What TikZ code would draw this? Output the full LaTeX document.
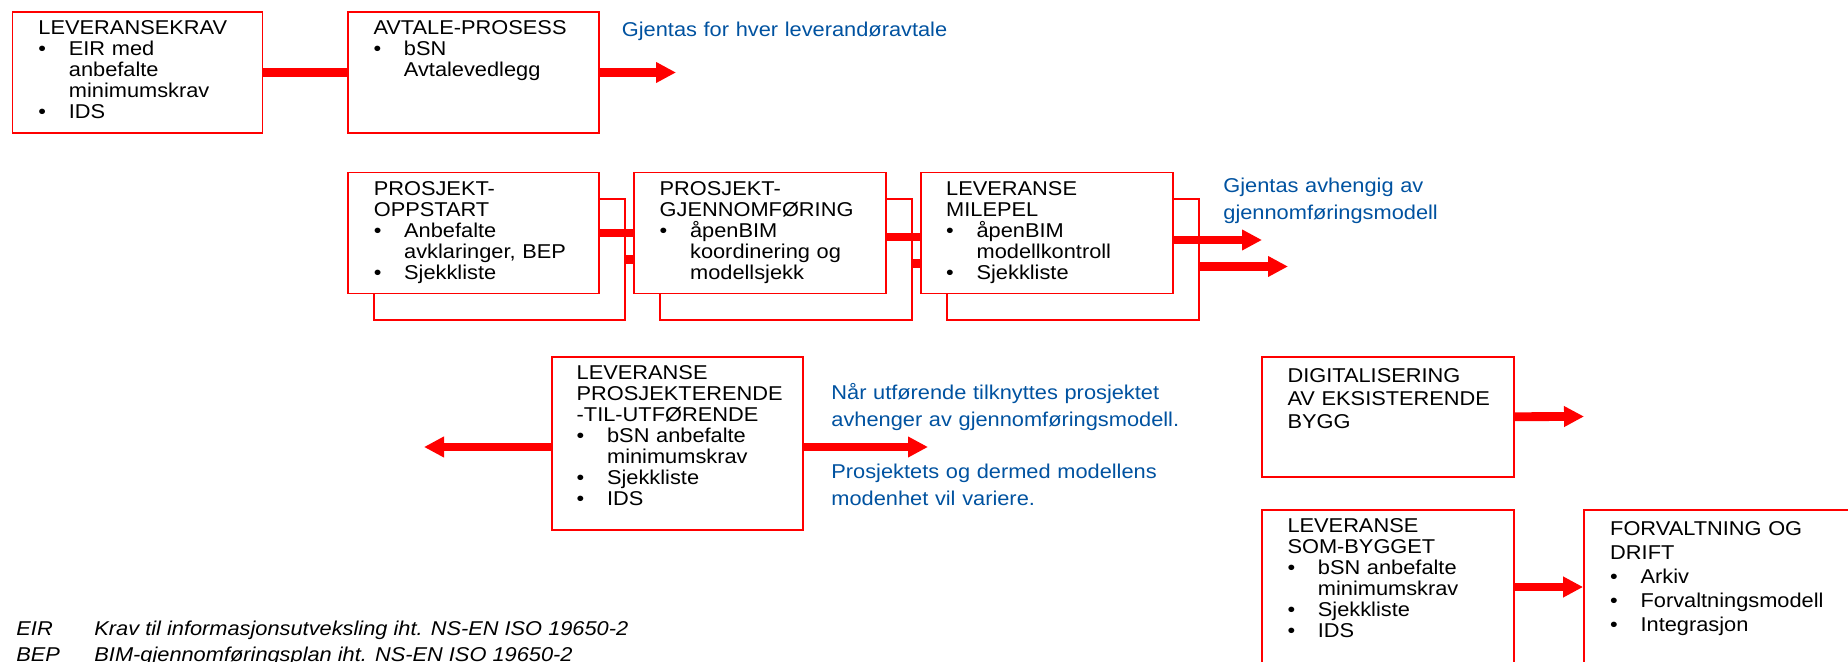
\documentclass[tikz,border=0pt]{standalone}
\usepackage{fontspec}
\setmainfont{Liberation Sans}[FakeStretch=1.09]
\usetikzlibrary{arrows.meta,positioning}
\definecolor{boxred}{RGB}{255,0,0}
\definecolor{noteblue}{RGB}{0,82,160}
\tikzset{
  frame/.style={draw=boxred, line width=0.9pt, fill=white},
  boxtext/.style={anchor=base west, text width=122pt, align=left, font=\fontsize{10}{10.5}\selectfont},
  note/.style={anchor=base west, text width=190pt, align=left, text=noteblue, font=\fontsize{10}{13.3}\selectfont},
  legend/.style={anchor=base west, font=\fontsize{10}{12}\selectfont\itshape},
  link/.style={draw=boxred, line width=4.4pt},
  flow/.style={link, -{Triangle[length=10pt,width=9.8pt]}},
}
\newcommand{\bul}{\makebox[15.2pt][l]{\textbullet}}
\newcommand{\ind}{\hspace*{15.2pt}}
\begin{document}
\begin{tikzpicture}[x=0.5pt,y=0.5pt]
    \tikzstyle{every node}+=[inner sep=0pt]
    \useasboundingbox (0,0) rectangle (1848,-662);
    \node [frame, minimum width=125pt, minimum height=60.5pt] (krav) at (137.5,-72.5) {};
    \node [boxtext] at ([shift={(26.5,-23.5)}]krav.north west) {LEVERANSEKRAV\\\bul EIR med\\\ind anbefalte\\\ind minimumskrav\\\bul IDS};
    \node [frame, minimum width=125.5pt, minimum height=60.5pt] (avtale) at (473.5,-72.5) {};
    \node [boxtext] at ([shift={(26,-23.5)}]avtale.north west) {AVTALE-PROSESS\\\bul bSN\\\ind Avtalevedlegg};
    \coordinate (avtaleend) at (676,-72.5);
    \draw [link] (krav) -- (avtale);
    \draw [flow] (avtale.east) -- (avtaleend);
    \node [note] at (621.5,-37) {Gjentas for hver leverandøravtale};
    \node [frame, minimum width=125.5pt, minimum height=60.5pt] (oppstart2) at (499.8,-259.5) {};
    \node [frame, minimum width=126pt, minimum height=60.5pt] (gjennom2) at (786.2,-259.5) {};
    \node [frame, minimum width=126pt, minimum height=60.5pt] (milepel2) at (1073.2,-259.5) {};
    \node [frame, minimum width=125.5pt, minimum height=60.5pt] (oppstart) at (473.3,-233) {};
    \node [boxtext] at ([shift={(26.5,-23.5)}]oppstart.north west) {PROSJEKT-\\OPPSTART\\\bul Anbefalte\\\ind avklaringer, BEP\\\bul Sjekkliste};
    \node [frame, minimum width=126pt, minimum height=60.5pt] (gjennom) at (759.7,-233) {};
    \node [boxtext] at ([shift={(26.5,-23.5)}]gjennom.north west) {PROSJEKT-\\GJENNOMFØRING\\\bul åpenBIM\\\ind koordinering og\\\ind modellsjekk};
    \node [frame, minimum width=126pt, minimum height=60.5pt] (milepel) at (1046.7,-233) {};
    \node [boxtext] at ([shift={(26,-23.5)}]milepel.north west) {LEVERANSE\\MILEPEL\\\bul åpenBIM\\\ind modellkontroll\\\bul Sjekkliste};
    \draw [link] (oppstart) -- (gjennom);
    \draw [link] (oppstart2.east) -- (oppstart2.east -| gjennom.west);
    \draw [link] ([yshift=-2pt]gjennom.east) -- ([yshift=-2pt]milepel.west);
    \draw [link] ([yshift=-2pt]gjennom2.east) -- ([yshift=-2pt]gjennom2.east -| milepel.west);
    \coordinate (milepelend) at (1262,-240);
    \coordinate (milepelend2) at (1288,-266.5);
    \draw [flow] (milepel.east |- milepelend) -- (milepelend);
    \draw [flow] (milepel2.east |- milepelend2) -- (milepelend2);
    \node [note] at (1223,-193) {Gjentas avhengig av\\gjennomføringsmodell};
    \node [frame, minimum width=125.8pt, minimum height=86.5pt] (utforende) at (677.5,-443.3) {};
    \node [boxtext] at ([shift={(25.5,-23.3)}]utforende.north west) {LEVERANSE\\PROSJEKTERENDE\\-TIL-UTFØRENDE\\\bul bSN anbefalte\\\ind minimumskrav\\\bul Sjekkliste\\\bul IDS};
    \coordinate (utforleft) at (424,-447);
    \coordinate (utforright) at (928,-447);
    \draw [flow] (utforende.west |- utforleft) -- (utforleft);
    \draw [flow] (utforende.east |- utforright) -- (utforright);
    \node [note] at (831,-400) {Når utførende tilknyttes prosjektet\\avhenger av gjennomføringsmodell.};
    \node [note] at (831,-479) {Prosjektets og dermed modellens\\modenhet vil variere.};
    \node [frame, minimum width=126pt, minimum height=60pt] (digital) at (1388,-416.7) {};
    \node [boxtext, font=\fontsize{10}{11.65}\selectfont] at ([shift={(26,-26.3)}]digital.north west) {DIGITALISERING\\AV EKSISTERENDE\\BYGG};
    \coordinate (digitalend) at (1584,-416.5);
    \draw [flow] (digital.east) -- (digitalend);
    \node [frame, minimum width=126pt, minimum height=85pt] (sombygget) at (1388,-595) {};
    \node [boxtext] at ([shift={(26,-23)}]sombygget.north west) {LEVERANSE\\SOM-BYGGET\\\bul bSN anbefalte\\\ind minimumskrav\\\bul Sjekkliste\\\bul IDS};
    \node [frame, minimum width=143pt, minimum height=85pt] (forvaltning) at (1727,-595) {};
    \node [boxtext, font=\fontsize{10}{12}\selectfont] at ([shift={(26.7,-26.3)}]forvaltning.north west) {FORVALTNING OG\\DRIFT\\\bul Arkiv\\\bul Forvaltningsmodell\\\bul Integrasjon};
    \draw [flow] ([yshift=4pt]sombygget.east) -- ([yshift=4pt]sombygget.east -| forvaltning.west);
    \node [legend] (eir) at (16,-635) {EIR};
    \node [legend] at (94,-635) {Krav til informasjonsutveksling iht. NS-EN ISO 19650-2};
    \node [legend] (bep) at (16,-661) {BEP};
    \node [legend] at (94,-661) {BIM-gjennomføringsplan iht. NS-EN ISO 19650-2};
\end{tikzpicture}
\end{document}
